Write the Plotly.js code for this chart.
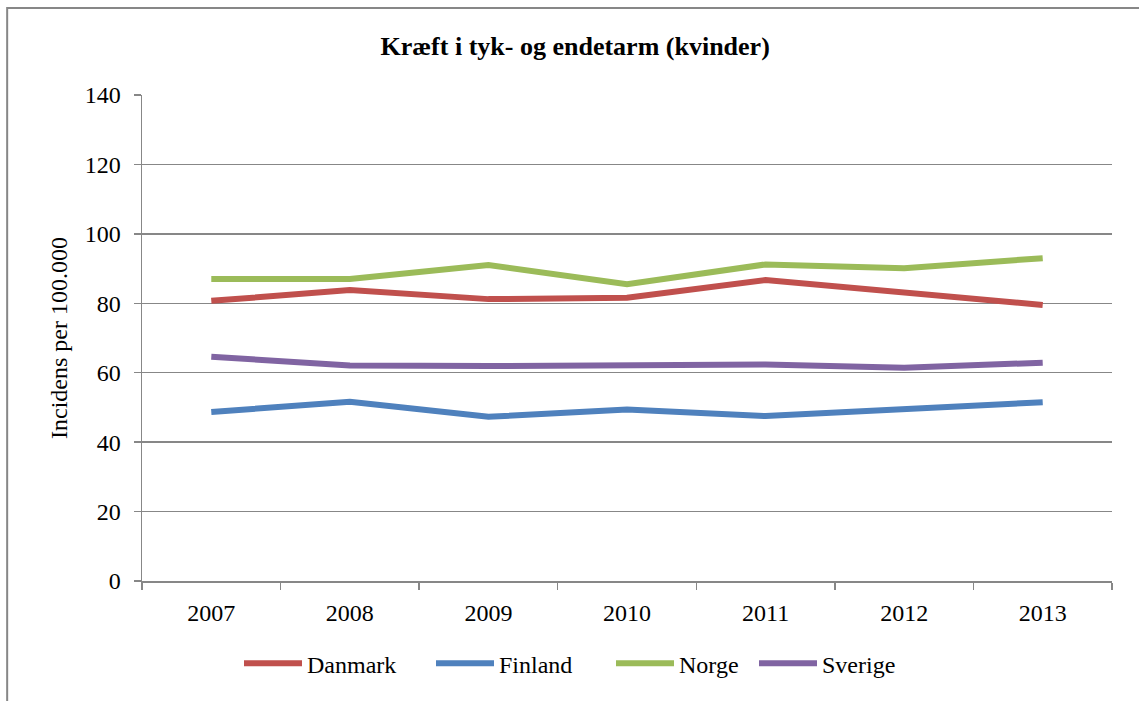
<!DOCTYPE html>
<html>
<head>
<meta charset="utf-8">
<script src="https://cdn.plot.ly/plotly-3.0.1.min.js"></script>
<style>
html,body{margin:0;padding:0;background:#fff;}
#chart{width:1139px;height:701px;}
</style>
</head>
<body>
<div id="chart"></div>
<script>
const years = ["2007","2008","2009","2010","2011","2012","2013"];
const danmark = [80.7, 83.8, 81.2, 81.6, 86.7, 83.3, 79.5];
const finland = [48.7, 51.6, 47.3, 49.4, 47.5, 49.7, 51.5];
const norge   = [87.0, 87.0, 91.0, 85.5, 91.2, 90.1, 93.0];
const sverige = [64.6, 62.1, 61.9, 62.1, 62.4, 61.4, 62.9];
const yTicks = [0, 20, 40, 60, 80, 100, 120, 140];

const seriesNames = ["Danmark", "Finland", "Norge", "Sverige"];
const seriesData = [danmark, finland, norge, sverige];
const colors = ["#C0504D", "#4F81BD", "#9BBB59", "#8064A2"];
const legendWidths = [119, 107, 70, 100];

const traces = seriesData.map((d, i) => ({
  x: years, y: d, name: seriesNames[i], type: "scatter", mode: "lines",
  legendwidth: legendWidths[i],
  line: {color: colors[i], width: 6}
}));

const font = "Liberation Serif";
const layout = {
  width: 1139, height: 701,
  margin: {l: 142, r: 27, t: 95, b: 120},
  paper_bgcolor: "#fff", plot_bgcolor: "#fff",
  font: {family: font, size: 24, color: "#000"},
  title: {text: "<b>Kræft i tyk- og endetarm (kvinder)</b>", x: 0.505, xanchor: "center", y: 0.934, yanchor: "middle",
          font: {family: font, size: 26, color: "#000"}},
  xaxis: {type: "category", range: [-0.5, 6.5], showgrid: false, showline: true, linecolor: "#878787", linewidth: 1.5,
          ticks: "outside", tickson: "boundaries", ticklen: 7, tickcolor: "#878787", tickwidth: 1.5,
          ticklabelstandoff: 10,
          tickfont: {family: font, size: 24, color: "#000"}, zeroline: false, fixedrange: true},
  yaxis: {range: [0, 140], tickvals: yTicks, showgrid: true, gridcolor: "#878787", gridwidth: 1.5,
          showline: true, linecolor: "#878787", linewidth: 1.5, ticks: "outside", ticklen: 7,
          tickcolor: "#878787", tickwidth: 1.5, zeroline: false, ticklabelstandoff: 8,
          title: {text: "Incidens per 100.000", font: {family: font, size: 24, color: "#000"}, standoff: 10},
          tickfont: {family: font, size: 24, color: "#000"}},
  legend: {orientation: "h", x: 0.1, xanchor: "left", y: -0.17, yanchor: "middle",
           font: {family: font, size: 24, color: "#000"}, itemwidth: 58,
           traceorder: "normal", bgcolor: "rgba(0,0,0,0)"},
  shapes: [{type: "rect", xref: "paper", yref: "paper", x0: -0.139, x1: 1.2, y0: 1.179, y1: -0.4,
            line: {color: "#878787", width: 2}, fillcolor: "rgba(0,0,0,0)", layer: "below"}],
  showlegend: true
};

Plotly.newPlot("chart", traces, layout, {displayModeBar: false, staticPlot: true});
</script>
</body>
</html>
